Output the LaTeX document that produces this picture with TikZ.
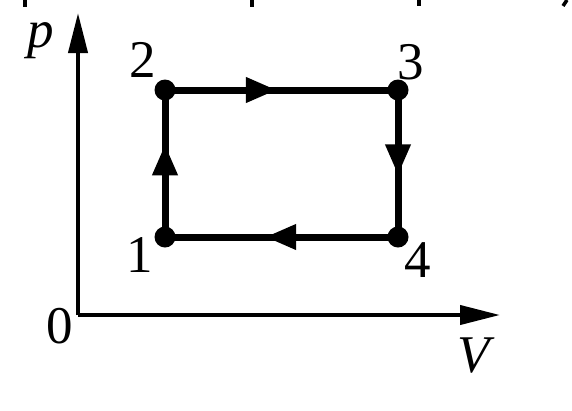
\documentclass[tikz,border=0pt]{standalone}
\usepackage{fontspec}
\setmainfont{Liberation Serif}
\usetikzlibrary{arrows.meta,decorations.markings}
\tikzset{
  axisline/.style={line width=4pt, -{Triangle[length=40pt,width=19pt]}},
  edgeline/.style={line width=7pt},
  dot/.style={circle, fill=black, inner sep=0pt, minimum size=21pt},
  lbl/.style={inner sep=0pt, font=\fontsize{53}{53}\selectfont},
  scrap/.style={line width=3.5pt},
  midarrow/.style={postaction={decorate}, decoration={markings,
     mark=at position #1 with {\arrow{Triangle[length=31pt,width=24pt]}}}}
}
\begin{document}
\begin{tikzpicture}[x=1pt,y=-1pt]
\useasboundingbox (0,0) rectangle (572,410);
% fragments at top edge
\coordinate (s1a) at (25,0); \coordinate (s1b) at (25,7);
\coordinate (s2a) at (252,0); \coordinate (s2b) at (252,7);
\coordinate (s3a) at (419,0); \coordinate (s3b) at (419,6);
\coordinate (s4a) at (567,0); \coordinate (s4b) at (563,6);
\draw[scrap] (s1a) -- (s1b);
\draw[scrap] (s2a) -- (s2b);
\draw[scrap] (s3a) -- (s3b);
\draw[scrap] (s4a) -- (s4b);
% axes
\coordinate (O) at (78,315);
\coordinate (ytip) at (78,13);
\coordinate (xtip) at (500,315);
\draw[axisline] (O) -- (ytip);
\draw[axisline] (O) -- (xtip);
% cycle
\node[dot] (n1) at (165,237) {};
\node[dot] (n2) at (165,90) {};
\node[dot] (n3) at (398,90) {};
\node[dot] (n4) at (398,237) {};
\draw[edgeline, midarrow=0.63] (n1.center) -- (n2.center);
\draw[edgeline, midarrow=0.48] (n2.center) -- (n3.center);
\draw[edgeline, midarrow=0.58] (n3.center) -- (n4.center);
\draw[edgeline, midarrow=0.57] (n4.center) -- (n1.center);
% labels
\node[lbl] (lp) at (41,41) {\itshape p};
\node[lbl] (l2) at (143,60) {2};
\node[lbl] (l3) at (411,62) {3};
\node[lbl] (l1) at (140,255) {1};
\node[lbl] (l4) at (418,260) {4};
\node[lbl] (l0) at (60,326) {0};
\node[lbl] (lV) at (474,356) {\itshape V};
\end{tikzpicture}
\end{document}
